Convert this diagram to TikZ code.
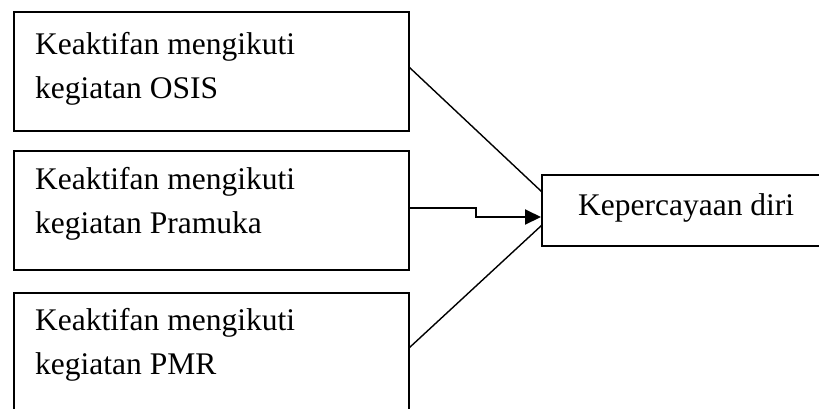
\documentclass[tikz,border=0pt]{standalone}
\usepackage{fontspec}
\setmainfont{Liberation Serif}
\usetikzlibrary{arrows.meta}
\begin{document}
\begin{tikzpicture}[x=1pt,y=-1pt,
  boxframe/.style={draw, line width=1.6pt},
  txt/.style={anchor=base west, inner sep=0pt, font=\fontsize{31.5}{38}\selectfont},
  link/.style={line width=1.4pt},
  mainlink/.style={line width=2pt, -{Triangle[length=16pt,width=15pt]}}]
\clip (0,0) rectangle (819,408);
\fill[white] (0,0) rectangle (819,408);
% boxes
\draw[boxframe] (14,12) rectangle (409,131);
\draw[boxframe] (14,151) rectangle (409,270);
\draw[boxframe] (14,293) rectangle (409,414);
\draw[boxframe] (542,175) rectangle (830,246);
% named anchor points
\coordinate (b1) at (409,67);
\coordinate (b2) at (409,208);
\coordinate (b3) at (409,348);
\coordinate (k) at (476,208);
\coordinate (t1) at (542,192);
\coordinate (t2) at (541,217);
\coordinate (t3) at (542,225);
% texts
\node[txt] (a1) at (35,54) {Keaktifan mengikuti};
\node[txt] (a2) at (35,98) {kegiatan OSIS};
\node[txt] (c1) at (35,189) {Keaktifan mengikuti};
\node[txt] (c2) at (35,233) {kegiatan Pramuka};
\node[txt] (d1) at (35,330) {Keaktifan mengikuti};
\node[txt] (d2) at (35,374) {kegiatan PMR};
\node[txt] (r) at (578,215) {Kepercayaan diri};
% connectors
\draw[link] (b1) -- (t1);
\draw[link] (b3) -- (t3);
\draw[mainlink] (b2) -- (k) |- (t2);
\end{tikzpicture}
\end{document}
